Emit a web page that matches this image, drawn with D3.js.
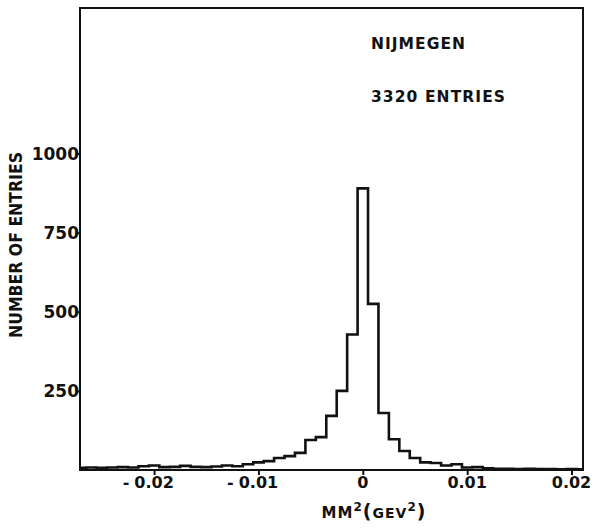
<!DOCTYPE html>
<html>
<head>
<meta charset="utf-8">
<script src="https://cdn.jsdelivr.net/npm/d3@7"></script>
<style>
  html, body { margin: 0; padding: 0; background: #fff; }
  svg { display: block; }
  text { font-family: "DejaVu Sans", "Liberation Sans", sans-serif; font-weight: bold; fill: #111; }
</style>
</head>
<body>
<svg id="chart" width="594" height="530"></svg>
<script>
// ---- data ----
const binIndex = d3.range(-27, 22);          // bin k covers [(k-0.5), (k+0.5)] x 0.001 GeV^2
const binWidth = 0.001;
const counts = [
  7, 8, 7, 8, 9, 8, 12, 14, 9, 10, 13, 10, 9, 11, 14,   // k = -27 .. -13
  12, 18, 24, 28, 38, 44, 54, 95, 104, 171, 250, 428,   // k = -12 .. -1
  890,                                                  // k = 0
  525, 180, 97, 60, 38, 24, 22, 14, 18, 8, 9, 5,        // k = 1 .. 12
  4, 4, 3, 4, 3, 3, 2, 3, 2                             // k = 13 .. 21
];
const xTicks = [-0.02, -0.01, 0, 0.01, 0.02];
const xTickLabels = ["0.02", "0.01", "0", "0.01", "0.02"];
const xTickNegative = [true, true, false, false, false];
const yTicks = [250, 500, 750, 1000];
const yTickLabels = ["250", "500", "750", "1000"];
const xDomain = [-0.0271, 0.0211];
const yDomain = [0, 1460];
const notes = ["NIJMEGEN", "3320 ENTRIES"];

// ---- layout ----
const svg = d3.select("#chart");
const L = 80, R = 583, T = 8, B = 470;
const x = d3.scaleLinear().domain(xDomain).range([L, R]);
const y = d3.scaleLinear().domain(yDomain).range([B, T]);
const ink = "#111";

svg.append("rect").attr("width", 594).attr("height", 530).attr("fill", "#fff");

svg.append("defs").append("clipPath").attr("id", "plotclip")
  .append("rect").attr("x", L).attr("y", T).attr("width", R - L).attr("height", B - T);

// histogram step outline
const pts = [];
binIndex.forEach((k, i) => {
  const x0 = (k - 0.5) * binWidth, x1 = (k + 0.5) * binWidth;
  if (i === 0) pts.push([x(x0), y(0)]);
  pts.push([x(x0), y(counts[i])]);
  pts.push([x(x1), y(counts[i])]);
  if (i === binIndex.length - 1) pts.push([x(x1), y(0)]);
});
svg.append("path")
  .attr("clip-path", "url(#plotclip)")
  .attr("d", d3.line()(pts))
  .attr("fill", "none")
  .attr("stroke", ink)
  .attr("stroke-width", 2.6)
  .attr("stroke-linejoin", "miter");

// frame
svg.append("rect")
  .attr("x", L).attr("y", T).attr("width", R - L).attr("height", B - T)
  .attr("fill", "none").attr("stroke", ink).attr("stroke-width", 2);

// x axis ticks + labels
const xAxis = svg.append("g").attr("transform", `translate(0,${B})`)
  .call(d3.axisBottom(x).tickValues(xTicks).tickSize(5).tickFormat(""));
xAxis.select(".domain").remove();
xAxis.selectAll(".tick line").attr("stroke", ink).attr("stroke-width", 2);

xTicks.forEach((v, i) => {
  const t = svg.append("text")
    .attr("x", x(v)).attr("y", 488)
    .attr("text-anchor", "middle")
    .attr("font-size", 16)
    .text(xTickLabels[i]);
  if (xTickNegative[i]) {
    const w = t.node().getComputedTextLength();
    svg.append("text")
      .attr("x", x(v) - w / 2 - 5).attr("y", 488)
      .attr("text-anchor", "end")
      .attr("font-size", 16)
      .text("-");
  }
});

// y axis ticks + labels
const yAxis = svg.append("g").attr("transform", `translate(${L},0)`)
  .call(d3.axisLeft(y).tickValues(yTicks).tickSize(2).tickFormat((d, i) => yTickLabels[i]));
yAxis.select(".domain").remove();
yAxis.selectAll(".tick line").attr("stroke", ink).attr("stroke-width", 2);
yAxis.selectAll(".tick text")
  .attr("x", -1)
  .attr("font-size", 17)
  .attr("font-family", "DejaVu Sans")
  .attr("font-weight", "bold")
  .attr("fill", ink);

// axis titles
const xt = svg.append("text")
  .attr("x", 374).attr("y", 518)
  .attr("text-anchor", "middle")
  .attr("font-size", 15)
  .attr("letter-spacing", 1);
xt.append("tspan").text("MM");
xt.append("tspan").attr("font-size", 12).attr("dy", -7).text("2");
xt.append("tspan").attr("font-size", 19).attr("dy", 7).text("(");
xt.append("tspan").attr("font-size", 14).text("GEV");
xt.append("tspan").attr("font-size", 12).attr("dy", -7).text("2");
xt.append("tspan").attr("font-size", 19).attr("dy", 7).text(")");

svg.append("text")
  .attr("transform", "translate(22,245) rotate(-90)")
  .attr("text-anchor", "middle")
  .attr("font-size", 17)
  .attr("textLength", 186)
  .attr("lengthAdjust", "spacingAndGlyphs")
  .text("NUMBER OF ENTRIES");

// annotations
svg.append("text")
  .attr("x", 371).attr("y", 49)
  .attr("font-size", 15.5)
  .attr("textLength", 94)
  .attr("lengthAdjust", "spacing")
  .text(notes[0]);
svg.append("text")
  .attr("x", 371).attr("y", 102)
  .attr("font-size", 15.5)
  .attr("textLength", 134)
  .attr("lengthAdjust", "spacing")
  .text(notes[1]);
</script>
</body>
</html>
